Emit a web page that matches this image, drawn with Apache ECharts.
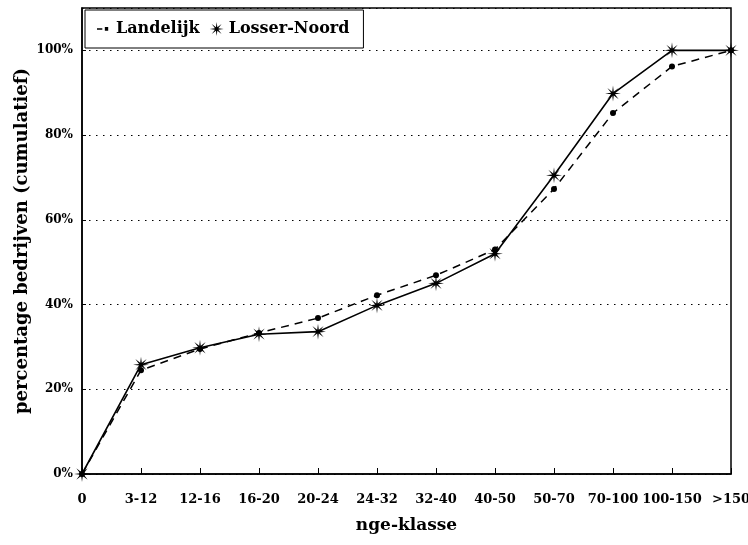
<!DOCTYPE html>
<html>
<head>
<meta charset="utf-8">
<script src="https://cdn.jsdelivr.net/npm/echarts@6/dist/echarts.min.js"></script>
<style>
html,body{margin:0;padding:0;background:#fff;}
#chart{width:748px;height:545px;}
</style>
</head>
<body>
<div id="chart"></div>
<script>
const categories = ['0','3-12','12-16','16-20','20-24','24-32','32-40','40-50','50-70','70-100','100-150','>150'];
const landelijk = [0, 24.5, 29.5, 33.3, 36.8, 42.2, 46.9, 53, 67.3, 85.2, 96.2, 100];
const losserNoord = [0, 25.8, 29.8, 33.0, 33.6, 39.8, 45.0, 52.0, 70.5, 89.8, 100, 100];
const yTicks = [0, 20, 40, 60, 80, 100];

function starPath(n, rOut, rIn) {
  let pts = [];
  for (let i = 0; i < n * 2; i++) {
    const r = i % 2 === 0 ? rOut : rIn;
    const a = Math.PI * i / n - Math.PI / 2;
    pts.push((50 + r * Math.cos(a)).toFixed(2) + ',' + (50 + r * Math.sin(a)).toFixed(2));
  }
  return 'path://M' + pts.join('L') + 'Z';
}
const asterisk = starPath(8, 50, 13);
const dashDot = 'path://M0,44L38,44L38,56L0,56Z M56,36L80,36L80,62L56,62Z M0,0L0.1,0Z M100,100L99.9,100Z';

const font = '"DejaVu Serif", "Liberation Serif", serif';
const chart = echarts.init(document.getElementById('chart'), null, {renderer: 'canvas'});
chart.setOption({
  animation: false,
  backgroundColor: '#fff',
  grid: {left: 82, right: 17, top: 8, bottom: 71, outerBoundsMode: 'none', containLabel: false,
         show: true, borderColor: '#000', borderWidth: 1.5, backgroundColor: 'transparent'},
  legend: {
    left: 85, top: 10, padding: [11, 14, 11, 12], itemGap: 10,
    backgroundColor: '#fff', borderColor: '#000', borderWidth: 1,
    itemWidth: 14, itemHeight: 14,
    textStyle: {fontFamily: font, fontWeight: 'bold', fontSize: 16, color: '#000'},
    data: [
      {name: 'Landelijk', icon: dashDot, itemStyle: {color: '#000'}},
      {name: 'Losser-Noord', icon: asterisk, itemStyle: {color: '#000'}}
    ]
  },
  xAxis: {
    type: 'category', data: categories, boundaryGap: false,
    name: 'nge-klasse', nameLocation: 'middle', nameGap: 43, nameMoveOverlap: false,
    nameTextStyle: {fontFamily: font, fontWeight: 'bold', fontSize: 17, color: '#000'},
    axisLine: {lineStyle: {color: '#000', width: 1.5}},
    axisTick: {show: true, inside: true, length: 6, lineStyle: {color: '#000'}},
    axisLabel: {fontFamily: font, fontWeight: 'bold', fontSize: 13, color: '#000', margin: 19, interval: 0, hideOverlap: false},
    splitLine: {show: false}
  },
  yAxis: {
    type: 'value', min: 0, max: 110, interval: 20,
    name: 'percentage bedrijven (cumulatief)', nameLocation: 'middle', nameGap: 51, nameMoveOverlap: false,
    nameTextStyle: {fontFamily: font, fontWeight: 'bold', fontSize: 18, color: '#000'},
    axisLine: {show: true, lineStyle: {color: '#000', width: 1.5}},
    axisTick: {show: true, inside: true, length: 4, lineStyle: {color: '#000'}},
    axisLabel: {
      fontFamily: font, fontWeight: 'bold', fontSize: 12, color: '#000', margin: 9,
      showMaxLabel: false,
      formatter: v => yTicks.indexOf(v) >= 0 ? v + '%' : ''
    },
    splitLine: {show: true, lineStyle: {color: '#000', width: 1, type: [1.5, 5.5]}}
  },
  series: [
    {
      name: 'Landelijk', type: 'line', data: landelijk,
      symbol: 'circle', symbolSize: 6,
      itemStyle: {color: '#000'},
      lineStyle: {color: '#000', width: 1.5, type: [8, 6]},
      z: 2
    },
    {
      name: 'Losser-Noord', type: 'line', data: losserNoord,
      symbol: asterisk, symbolSize: 16,
      itemStyle: {color: '#000'},
      lineStyle: {color: '#000', width: 1.6, type: 'solid'},
      z: 3
    }
  ]
});
</script>
</body>
</html>
